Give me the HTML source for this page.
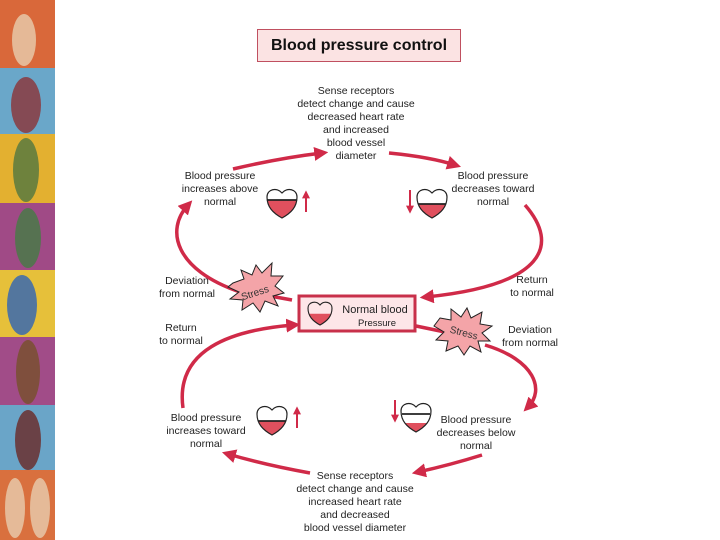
<!DOCTYPE html>
<html><head><meta charset="utf-8"><style>
body{margin:0;width:720px;height:540px;background:#fff;overflow:hidden;position:relative;font-family:"Liberation Sans",sans-serif}
.strip{position:absolute;left:0;width:55px}
.t{position:absolute;font-size:10.5px;color:#222;text-align:center;line-height:13px;white-space:nowrap;transform:translateX(-50%)}
</style></head><body>
<div class="strip" style="top:0;height:68px;background:#d9683a"></div>
<div class="strip" style="top:68px;height:66px;background:#6aa7c9"></div>
<div class="strip" style="top:134px;height:69px;background:#e3b030"></div>
<div class="strip" style="top:203px;height:67px;background:#a04a86"></div>
<div class="strip" style="top:270px;height:67px;background:#e6c03a"></div>
<div class="strip" style="top:337px;height:68px;background:#a14c88"></div>
<div class="strip" style="top:405px;height:65px;background:#6aa5c8"></div>
<div class="strip" style="top:470px;height:70px;background:#d9703e"></div>
<svg width="55" height="540" style="position:absolute;left:0;top:0">
<g fill="#e8c8a8" opacity="0.85">
<ellipse cx="24" cy="40" rx="12" ry="26"/><ellipse cx="26" cy="105" rx="15" ry="28" fill="#8a3a40"/>
<ellipse cx="26" cy="170" rx="13" ry="32" fill="#5a7a40"/><ellipse cx="28" cy="238" rx="13" ry="30" fill="#4a7a48"/>
<ellipse cx="22" cy="305" rx="15" ry="30" fill="#3a6ab0"/><ellipse cx="28" cy="372" rx="12" ry="32" fill="#7a5030"/>
<ellipse cx="28" cy="440" rx="13" ry="30" fill="#6a3030"/><ellipse cx="15" cy="508" rx="10" ry="30"/><ellipse cx="40" cy="508" rx="10" ry="30"/>
</g></svg>
<div style="position:absolute;left:257px;top:29px;width:202px;height:31px;border:1px solid #c05060;background:#fbe3e3;font-size:16px;font-weight:bold;line-height:31px;text-align:center;color:#111">Blood pressure control</div>

<svg width="720" height="540" style="position:absolute;left:0;top:0">
<defs>
<marker id="a" markerWidth="4" markerHeight="4" refX="2.2" refY="2" orient="auto" markerUnits="strokeWidth"><path d="M0,0 L4,2 L0,4 Z" fill="#d02a48"/></marker>
<path id="h" d="M15,30 C6,25 0,19 0,9 C0,1 10,-1 15,5 C20,-1 30,1 30,9 C30,19 24,25 15,30 Z"/>
<clipPath id="c1"><rect x="0" y="12" width="30" height="20"/></clipPath>
<clipPath id="c2"><rect x="0" y="16" width="30" height="20"/></clipPath>
<clipPath id="c3"><rect x="0" y="21" width="30" height="20"/></clipPath>
</defs>
<g fill="none" stroke="#d02a48" stroke-width="3.5" marker-end="url(#a)">
<path d="M233,169 Q280,158 322,153"/>
<path d="M389,153 Q430,157 455,165"/>
<path d="M240,292 C175,270 165,230 188,205"/>
<path d="M525,205 C560,245 545,285 426,297"/>
<path d="M183,408 C175,350 230,330 294,325"/>
<path d="M485,345 C535,360 545,390 528,407"/>
<path d="M310,473 Q265,465 228,454"/>
<path d="M482,455 Q450,465 418,472"/>
</g>
<g stroke="#d02a48" stroke-width="3.5"><line x1="270" y1="296" x2="292" y2="300"/><line x1="416" y1="326" x2="445" y2="332"/></g>
<g stroke="#d02a48" stroke-width="2" marker-end="url(#a)">
<line x1="306" y1="212" x2="306" y2="194"/><line x1="410" y1="190" x2="410" y2="210"/>
<line x1="297" y1="428" x2="297" y2="410"/><line x1="395" y1="400" x2="395" y2="419"/>
</g>
<g transform="translate(267,188)"><use href="#h" fill="#e0505e" clip-path="url(#c1)"/><use href="#h" fill="none" stroke="#222" stroke-width="1.2"/><line x1="0" y1="12" x2="30" y2="12" stroke="#222" stroke-width="1.8"/></g>
<g transform="translate(417,188)"><use href="#h" fill="#e0505e" clip-path="url(#c2)"/><use href="#h" fill="none" stroke="#222" stroke-width="1.2"/><line x1="1" y1="16" x2="29" y2="16" stroke="#222" stroke-width="1.8"/></g>
<g transform="translate(257,405)"><use href="#h" fill="#e0505e" clip-path="url(#c2)"/><use href="#h" fill="none" stroke="#222" stroke-width="1.2"/><line x1="1" y1="16" x2="29" y2="16" stroke="#222" stroke-width="1.8"/></g>
<g transform="translate(401,402)"><use href="#h" fill="#e0505e" clip-path="url(#c3)"/><use href="#h" fill="none" stroke="#222" stroke-width="1.2"/><line x1="1" y1="12" x2="29" y2="12" stroke="#222" stroke-width="1.8"/></g>
<rect x="299" y="296" width="116" height="35" fill="#fde6e8" stroke="#c8304a" stroke-width="3"/>
<g transform="translate(308,301) scale(0.8)"><use href="#h" fill="#e0505e" clip-path="url(#c2)"/><use href="#h" fill="none" stroke="#222" stroke-width="1.4"/></g>
<text x="375" y="313" font-size="11" text-anchor="middle" fill="#222" font-family="Liberation Sans">Normal blood</text>
<text x="377" y="326" font-size="9.5" text-anchor="middle" fill="#222" font-family="Liberation Sans">Pressure</text>
<g fill="#f4a4a8" stroke="#222" stroke-width="1">
<polygon points="233,283 244,279 241,270 252,275 256,265 262,273 272,263 271,276 283,276 275,286 284,293 273,296 278,306 265,301 260,312 253,303 242,310 243,300 230,299 239,292 228,287"/>
<polygon points="440,318 451,320 451,309 461,317 467,308 471,318 482,312 480,324 492,326 482,333 490,341 478,341 481,352 470,346 464,355 458,346 446,351 448,341 436,340 444,332 434,326"/>
</g>
<text x="256" y="296" font-size="10" fill="#333" text-anchor="middle" transform="rotate(-18 256 296)" font-family="Liberation Sans">Stress</text>
<text x="463" y="336" font-size="10" fill="#333" text-anchor="middle" transform="rotate(15 463 336)" font-family="Liberation Sans">Stress</text>
</svg>

<div class="t" style="left:356px;top:85px">Sense receptors<br>detect change and cause<br>decreased heart rate<br>and increased<br>blood vessel<br>diameter</div>
<div class="t" style="left:220px;top:170px">Blood pressure<br>increases above<br>normal</div>
<div class="t" style="left:493px;top:170px">Blood pressure<br>decreases toward<br>normal</div>
<div class="t" style="left:187px;top:275px">Deviation<br>from normal</div>
<div class="t" style="left:532px;top:274px">Return<br>to normal</div>
<div class="t" style="left:181px;top:322px">Return<br>to normal</div>
<div class="t" style="left:530px;top:324px">Deviation<br>from normal</div>
<div class="t" style="left:206px;top:412px">Blood pressure<br>increases toward<br>normal</div>
<div class="t" style="left:476px;top:414px">Blood pressure<br>decreases below<br>normal</div>
<div class="t" style="left:355px;top:470px">Sense receptors<br>detect change and cause<br>increased heart rate<br>and decreased<br>blood vessel diameter</div>
</body></html>
